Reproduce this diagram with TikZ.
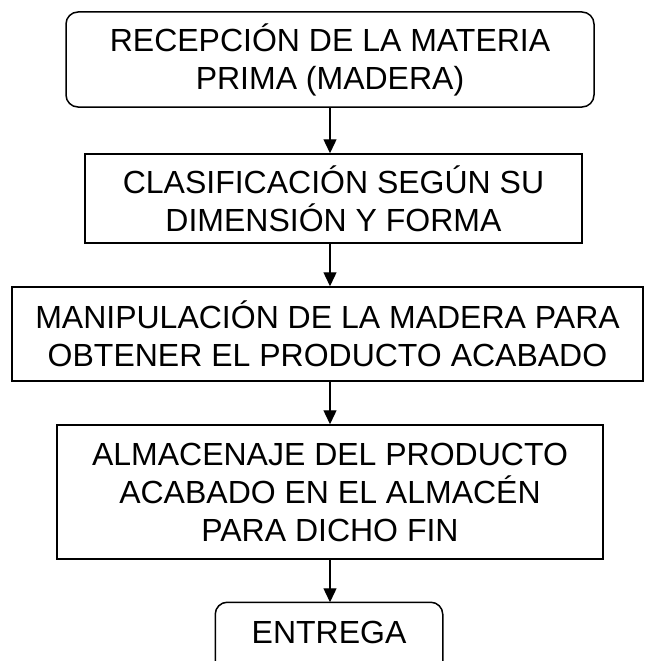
\documentclass[tikz,border=0pt]{standalone}
\usepackage{fontspec}
\setmainfont{Liberation Sans}
\usetikzlibrary{arrows.meta}
\begin{document}
\begin{tikzpicture}[x=1pt,y=-1pt,
  box/.style={draw=black,line width=1.5pt,inner sep=0pt,align=center,
    font=\fontsize{32}{38}\selectfont},
  rbox/.style={box,rounded corners=12pt},
  arr/.style={draw=black,line width=1.4pt,-{Triangle[width=13pt,length=14pt]}}]
\useasboundingbox (0,0) rectangle (645,661);
\node[rbox,minimum width=528pt,minimum height=95pt] (b1) at (330,59.5)
  {RECEPCIÓN DE LA MATERIA\\PRIMA (MADERA)};
\node[box,minimum width=497pt,minimum height=89pt] (b2) at (333.5,198.5)
  {CLASIFICACIÓN SEGÚN SU\\DIMENSIÓN Y FORMA};
\node[box,minimum width=631pt,minimum height=94pt] (b3) at (327.5,334)
  {MANIPULACIÓN DE LA MADERA PARA\\OBTENER EL PRODUCTO ACABADO};
\node[box,minimum width=546pt,minimum height=134pt] (b4) at (330,492)
  {ALMACENAJE DEL PRODUCTO\\ACABADO EN EL ALMACÉN\\PARA DICHO FIN};
\node[box,draw=none,minimum width=226pt,minimum height=58pt] (b5) at (329,632)
  {ENTREGA};
\draw[line width=1.5pt,rounded corners=12pt] (b5.north west) rectangle ([yshift=-75pt]b5.north east);
\draw[arr] (b1.south) -- (b1.south |- b2.north);
\draw[arr] (b1.south |- b2.south) -- (b1.south |- b3.north);
\draw[arr] (b1.south |- b3.south) -- (b1.south |- b4.north);
\draw[arr] (b1.south |- b4.south) -- (b1.south |- b5.north);
\end{tikzpicture}
\end{document}
